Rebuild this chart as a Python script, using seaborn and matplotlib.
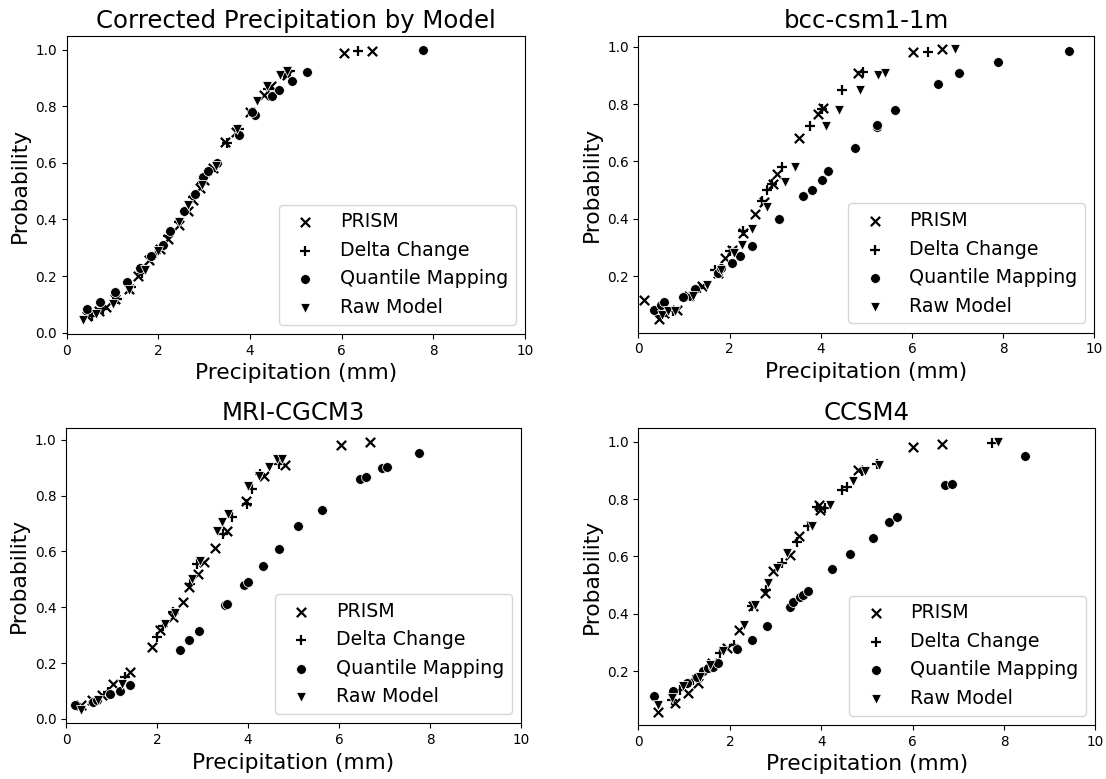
import numpy as np
import seaborn as sns
import matplotlib.pyplot as plt

# (precipitation mm, probability) pairs

# Corrected Precipitation by Model
tl_prism = [(0.45, 0.06), (0.7, 0.075), (0.85, 0.09), (1.05, 0.12), (1.35, 0.155), (1.55, 0.2),
            (1.8, 0.255), (2.04, 0.297), (2.2, 0.33), (2.45, 0.38), (2.65, 0.43), (2.75, 0.47),
            (2.9, 0.51), (3.0, 0.54), (3.2, 0.58), (3.45, 0.675), (3.7, 0.71), (4.0, 0.78),
            (4.3, 0.84), (4.45, 0.87), (4.8, 0.91), (6.04, 0.988), (6.67, 0.994)]
tl_delta = [(0.55, 0.06), (0.8, 0.085), (1.1, 0.12), (1.4, 0.16), (1.65, 0.21), (1.95, 0.28),
            (2.2, 0.34), (2.45, 0.39), (2.75, 0.48), (2.95, 0.53), (3.15, 0.57), (3.5, 0.67),
            (3.75, 0.72), (4.05, 0.78), (4.4, 0.86), (4.75, 0.91), (4.87, 0.923), (6.35, 0.994)]
tl_qm = [(0.45, 0.084), (0.73, 0.108), (1.05, 0.143), (1.31, 0.178), (1.6, 0.23), (1.83, 0.27),
         (2.1, 0.31), (2.25, 0.36), (2.55, 0.43), (2.8, 0.49), (2.98, 0.55), (3.09, 0.57),
         (3.29, 0.60), (3.75, 0.70), (4.11, 0.77), (4.05, 0.78), (4.47, 0.835), (4.64, 0.856),
         (4.91, 0.888), (5.24, 0.92), (7.78, 1.0)]
tl_raw = [(0.35, 0.043), (0.65, 0.066), (1.02, 0.10), (1.35, 0.149), (1.7, 0.22), (2.0, 0.29),
          (2.44, 0.39), (2.65, 0.45), (2.95, 0.52), (3.25, 0.59), (3.71, 0.72), (4.15, 0.82),
          (4.36, 0.87), (4.65, 0.91), (4.8, 0.925)]

# bcc-csm1-1m
tr_prism = [(0.12, 0.118), (0.46, 0.05), (0.55, 0.07), (0.84, 0.083), (1.1, 0.13), (1.39, 0.165),
            (1.75, 0.21), (1.9, 0.264), (2.05, 0.29), (2.3, 0.35), (2.55, 0.416), (2.75, 0.46),
            (2.95, 0.52), (3.03, 0.556), (3.53, 0.68), (3.94, 0.766), (4.05, 0.785), (4.81, 0.909),
            (6.03, 0.98), (6.66, 0.99)]
tr_delta = [(0.5, 0.06), (0.76, 0.077), (1.13, 0.13), (1.35, 0.16), (1.68, 0.22), (2.01, 0.287),
            (2.30, 0.357), (2.70, 0.463), (2.81, 0.50), (2.92, 0.52), (3.14, 0.58), (3.76, 0.725),
            (4.02, 0.784), (4.46, 0.848), (4.93, 0.912), (6.34, 0.982)]
tr_qm = [(0.34, 0.083), (0.5, 0.1), (0.56, 0.11), (0.98, 0.126), (1.24, 0.157), (1.75, 0.21),
         (1.82, 0.23), (2.04, 0.246), (2.23, 0.27), (2.48, 0.305), (3.08, 0.40), (3.61, 0.48),
         (3.80, 0.50), (4.03, 0.536), (4.15, 0.565), (4.75, 0.646), (5.22, 0.72), (5.24, 0.728),
         (5.63, 0.78), (6.57, 0.87), (7.03, 0.909), (7.89, 0.947), (9.43, 0.986)]
tr_raw = [(0.51, 0.065), (0.65, 0.08), (0.8, 0.08), (1.2, 0.13), (1.5, 0.17), (1.8, 0.22),
          (2.1, 0.28), (2.26, 0.31), (2.48, 0.363), (2.81, 0.44), (3.21, 0.527), (3.43, 0.58),
          (4.11, 0.725), (4.40, 0.78), (4.86, 0.848), (5.26, 0.90), (5.41, 0.909), (6.94, 0.99)]

# MRI-CGCM3
bl_prism = [(0.34, 0.048), (0.56, 0.066), (0.78, 0.084), (1.04, 0.125), (1.41, 0.167), (1.88, 0.257),
            (2.07, 0.319), (2.36, 0.364), (2.58, 0.418), (2.71, 0.474), (2.91, 0.519), (3.04, 0.561),
            (3.28, 0.612), (3.53, 0.674), (3.95, 0.782), (4.34, 0.871), (4.82, 0.91), (6.05, 0.982),
            (6.67, 0.993)]
bl_delta = [(0.6, 0.06), (0.93, 0.095), (1.30, 0.149), (1.99, 0.292), (2.14, 0.334), (2.36, 0.382),
            (2.73, 0.483), (2.87, 0.555), (3.46, 0.662), (3.64, 0.722), (3.97, 0.77), (4.08, 0.823),
            (4.27, 0.877), (4.67, 0.913)]
bl_qm = [(0.2, 0.051), (0.6, 0.06), (0.67, 0.068), (0.97, 0.09), (1.19, 0.10), (1.41, 0.122),
         (2.51, 0.248), (2.71, 0.283), (2.93, 0.314), (3.50, 0.408), (3.53, 0.41), (3.92, 0.481),
         (4.0, 0.489), (4.33, 0.549), (4.68, 0.61), (5.10, 0.69), (5.62, 0.748), (6.47, 0.859),
         (6.60, 0.865), (6.94, 0.899), (7.05, 0.903), (7.76, 0.952)]
bl_raw = [(0.32, 0.032), (0.71, 0.066), (1.22, 0.125), (2.18, 0.34), (2.40, 0.378), (2.76, 0.501),
          (2.95, 0.567), (3.31, 0.674), (3.42, 0.704), (3.57, 0.734), (4.01, 0.835), (4.25, 0.871),
          (4.47, 0.903), (4.63, 0.93), (4.74, 0.93)]

# CCSM4
br_prism = [(0.43, 0.059), (0.80, 0.088), (1.09, 0.123), (1.31, 0.158), (1.60, 0.228), (1.93, 0.28),
            (2.19, 0.344), (2.51, 0.426), (2.77, 0.472), (2.95, 0.548), (3.31, 0.606), (3.52, 0.67),
            (3.94, 0.78), (3.97, 0.763), (4.81, 0.902), (6.01, 0.981), (6.65, 0.993)]
br_delta = [(0.73, 0.10), (0.91, 0.135), (1.20, 0.17), (1.46, 0.199), (1.78, 0.263), (2.08, 0.292),
            (2.48, 0.426), (2.80, 0.484), (3.13, 0.577), (3.46, 0.652), (3.72, 0.705), (3.90, 0.774),
            (4.08, 0.769), (4.45, 0.833), (4.56, 0.844), (4.88, 0.897), (5.21, 0.923), (7.73, 0.995)]
br_qm = [(0.34, 0.112), (0.75, 0.129), (1.07, 0.158), (1.27, 0.179), (1.42, 0.199), (1.53, 0.21),
         (1.64, 0.216), (1.75, 0.228), (2.15, 0.277), (2.48, 0.309), (2.81, 0.358), (3.31, 0.423),
         (3.39, 0.44), (3.53, 0.458), (3.61, 0.466), (3.72, 0.478), (4.23, 0.557), (4.63, 0.609),
         (5.14, 0.666), (5.49, 0.719), (5.65, 0.737), (6.71, 0.848), (6.85, 0.852), (8.46, 0.949)]
br_raw = [(0.43, 0.083), (0.73, 0.106), (0.98, 0.147), (1.35, 0.181), (1.57, 0.222), (1.86, 0.269),
          (2.30, 0.362), (2.55, 0.431), (2.84, 0.507), (3.02, 0.56), (3.24, 0.612), (3.79, 0.705),
          (4.18, 0.78), (4.70, 0.862), (4.96, 0.897), (5.27, 0.92), (7.87, 1.0)]

titles = ['Corrected Precipitation by Model', 'bcc-csm1-1m', 'MRI-CGCM3', 'CCSM4']
panels = [(tl_prism, tl_delta, tl_qm, tl_raw),
          (tr_prism, tr_delta, tr_qm, tr_raw),
          (bl_prism, bl_delta, bl_qm, bl_raw),
          (br_prism, br_delta, br_qm, br_raw)]
labels = ['PRISM', 'Delta Change', 'Quantile Mapping', 'Raw Model']
markers = ['x', '+', 'o', 'v']

# axes rectangles in figure fractions
rects = [[0.0603, 0.5712, 0.4144, 0.3825],
         [0.5773, 0.5729, 0.4123, 0.3809],
         [0.0597, 0.0715, 0.4114, 0.3787],
         [0.5773, 0.0693, 0.4132, 0.3809]]

fig = plt.figure(figsize=(11.06, 7.79), dpi=100)

for rect, title, series in zip(rects, titles, panels):
    ax = fig.add_axes(rect)
    for data, lab, mk in zip(series, labels, markers):
        xs = [p[0] for p in data]
        ys = [p[1] for p in data]
        if mk in ('x', '+'):
            sns.scatterplot(x=xs, y=ys, marker=mk, color='black', label=lab,
                            linewidth=1.6, s=45, ax=ax)
        else:
            sns.scatterplot(x=xs, y=ys, marker=mk, color='black', label=lab, s=50, ax=ax)
    ax.set_xlim(0, 10)
    ax.set_xticks([0, 2, 4, 6, 8, 10])
    ax.set_title(title, fontsize=17.6)
    ax.set_xlabel('Precipitation (mm)', fontsize=15.7)
    ax.set_ylabel('Probability', fontsize=15.7)
    ax.tick_params(labelsize=9.8)
    ax.legend(loc='lower right', fontsize=13.7)

plt.savefig('out.png', dpi=100)
